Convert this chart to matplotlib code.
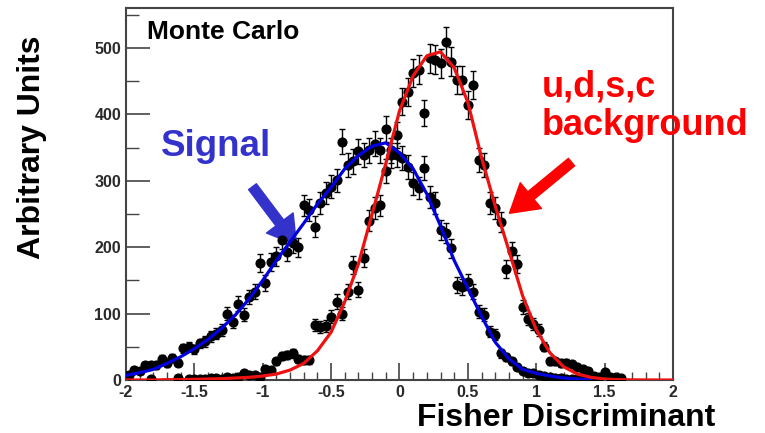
import numpy as np
import matplotlib.pyplot as plt
from matplotlib.ticker import MultipleLocator

plt.rcParams['font.family'] = ['Liberation Sans', 'DejaVu Sans']
plt.rcParams['font.weight'] = 'bold'

# histogram: 100 bins from -2 to 2
bin_edges = np.linspace(-2, 2, 101)
bin_centers = 0.5 * (bin_edges[:-1] + bin_edges[1:])

nan = np.nan
# Monte Carlo signal (per bin)
signal_counts = [
    8, 15, 13, 22, 23, 22, 32, 25, 33, 26,
    48, 50, 46, 55, 58, 66, 70, 75, 100, 88,
    115, 98, 125, 133, 176, 146, 178, 186, 211, 193,
    206, 200, 263, 256, 231, 266, 281, 291, 301, 359,
    324, 329, 344, 339, 346, 356, 346, 378, 346, 339,
    334, 321, 296, 289, 319, 276, 266, 226, 221, 198,
    143, 140, 148, 133, 103, 98, 73, 68, 40, 35,
    28, 20, 14, 10, 11, 8, 6, 4, 3, 3,
    2, 2, 1, 1, 1, 0.5, nan, nan, nan, nan,
    nan, nan, nan, nan, nan, nan, nan, nan, nan, nan,
]
# Monte Carlo u,d,s,c background (per bin)
background_counts = [
    nan, nan, nan, nan, 1, nan, nan, nan, nan, 3,
    nan, 1, 1, 1, 2, 3, 3, 2, 5, 3,
    4, 10, 8, 8, 5, 17, 15, 28, 36, 38,
    40, 32, 30, 30, 83, 80, 82, 95, 118, 100,
    133, 173, 136, 183, 240, 259, 263, 315, 338, 369,
    419, 434, 462, 467, 402, 484, 482, 477, 509, 479,
    452, 452, 414, 444, 331, 324, 266, 259, 238, 167,
    194, 175, 110, 92, 84, 75, 50, 28, 28, 25,
    26, 24, 20, 16, 14, 6, 5, 12, 5, 4,
    3, nan, nan, nan, nan, nan, nan, nan, nan, nan,
]

# fitted curves, read every 0.1
fit_x = np.round(np.arange(-2.0, 2.01, 0.1), 2)
signal_fit = [
    7, 11, 16, 25, 35, 47, 61, 78, 98, 122,
    150, 180, 208, 236, 265, 290, 318, 338, 352, 357,
    342, 318, 280, 232, 180, 138, 96, 57, 32, 16,
    10, 6, 3, 1.5, 0.5, nan, nan, nan, nan, nan, nan,
]
background_fit = [
    0, 0, 0, 0.5, 0.5, 1, 1.5, 2, 3, 4,
    6, 9, 15, 25, 44, 72, 118, 175, 250, 326,
    405, 458, 488, 494, 470, 418, 335, 262, 195, 127,
    76, 41, 20, 9, 4, 1.5, 0.5, 0.2, 0.1, 0, 0,
]

fig = plt.figure(figsize=(7.65, 4.33), dpi=100)
ax = fig.add_axes([0.1647, 0.1224, 0.715, 0.8591])

sig = np.array(signal_counts, dtype=float)
bkg = np.array(background_counts, dtype=float)
for counts in (sig, bkg):
    ax.errorbar(bin_centers, counts, yerr=np.sqrt(counts), fmt='o', color='black',
                ms=6.3, elinewidth=1.0, capsize=2.2, capthick=1.0, zorder=3)

ax.plot(fit_x, signal_fit, color='#0000e0', lw=2.3, zorder=4)
ax.plot(fit_x, background_fit, color='#ee1111', lw=2.3, zorder=5)

ax.set_xlim(-2, 2)
ax.set_ylim(0, 560)
ax.xaxis.set_minor_locator(MultipleLocator(0.1))
ax.yaxis.set_major_locator(MultipleLocator(100))
ax.yaxis.set_minor_locator(MultipleLocator(50))
ax.set_xticks([-2, -1.5, -1, -0.5, 0, 0.5, 1, 1.5, 2])
ax.set_xticklabels(['-2', '-1.5', '-1', '-0.5', '0', '0.5', '1', '1.5', '2'])
ax.tick_params(which='major', direction='in', length=12, width=1.2, color='#444444',
               labelsize=11.5, labelcolor='#2a2a2a', top=False, right=False)
ax.tick_params(axis='y', which='major', length=17)
ax.tick_params(which='minor', direction='in', length=6, width=1.0, color='#444444')
ax.tick_params(axis='y', which='minor', length=9)
for lab in ax.get_xticklabels() + ax.get_yticklabels():
    lab.set_fontweight('bold')
for sp in ax.spines.values():
    sp.set_color('#444444')
    sp.set_linewidth(1.5)

fig.text(0.042, 0.66, 'Arbitrary Units', rotation=90, ha='center', va='center',
         fontsize=23, fontweight='bold')
fig.text(0.74, 0.035, 'Fisher Discriminant', ha='center', va='center',
         fontsize=23, fontweight='bold')

ax.text(-1.85, 524, 'Monte Carlo', fontsize=19, fontweight='bold', ha='left', va='center')
ax.text(-1.745, 352, 'Signal', fontsize=26.5, fontweight='bold', color='#3333cc',
        ha='left', va='center')
ax.text(1.04, 412, 'u,d,s,c\nbackground', fontsize=26, fontweight='bold', color='red',
        ha='left', va='center', linespacing=1.15, clip_on=False)

ax.annotate('', xy=(-0.753, 203), xytext=(-1.075, 291),
            arrowprops=dict(width=7, headwidth=24, headlength=20, color='#3333cc', shrink=0))
ax.annotate('', xy=(0.804, 251), xytext=(1.258, 328),
            arrowprops=dict(width=7, headwidth=24, headlength=20, color='red', shrink=0))

fig.savefig('out.png', dpi=100)
